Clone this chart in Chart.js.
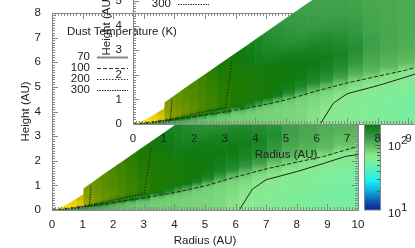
<!DOCTYPE html>
<html>
<head>
<meta charset="utf-8">
<script src="https://cdn.jsdelivr.net/npm/chart.js@4"></script>
<style>
html, body { margin: 0; padding: 0; background: #fff; overflow: hidden; }
#wrap { position: relative; width: 415px; height: 248px; overflow: hidden; }
canvas { position: absolute; }
</style>
</head>
<body>
<div id="wrap">
  <canvas id="lower" width="415" height="248" style="left:0;top:0"></canvas>
  <canvas id="upper" width="415" height="248" style="left:81px;top:-86px"></canvas>
</div>
<script>
// radial bin edges (AU), the disk map has visible vertical bands
const radiusEdges = [0.05, 0.2, 0.4, 0.6, 0.8, 1.02, 1.04, 1.2, 1.4, 1.6, 1.85, 2.1, 2.4, 2.75, 3.2, 3.69, 3.99, 4.25, 4.57, 4.9, 5.29, 5.69, 6.11, 6.54, 7.03, 7.52, 8.07, 8.66, 9.2, 9.85, 10];
// upper edge of the map at each radius edge (AU)
const surfaceHeight = [0.01, 0.07, 0.17, 0.31, 0.47, 0.64, 0.88, 1.03, 1.2, 1.38, 1.59, 1.81, 2.06, 2.37, 2.75, 3.17, 3.43, 3.65, 3.93, 4.21, 4.55, 4.89, 5.25, 5.62, 6.05, 6.47, 6.94, 7.45, 7.91, 8.47, 8.6];
// height over radius of each temperature sample
const heightRatios = [0, 0.08, 0.12, 0.16, 0.2, 0.24, 0.28, 0.34, 0.42, 0.52, 0.66, 0.86];
// dust temperature (K), one row per radial bin, one value per height ratio
const temperatures = [
  [160, 500, 800, 1000, 1200, 1200, 1200, 1200, 1200, 1200, 1200, 1200],
  [150, 450, 750, 1000, 1150, 1200, 1200, 1200, 1200, 1200, 1200, 1200],
  [140, 350, 650, 900, 1100, 1150, 1150, 1150, 1100, 1100, 1100, 1100],
  [130, 280, 500, 750, 950, 1050, 1050, 1000, 1000, 1000, 1000, 1000],
  [120, 220, 380, 600, 800, 900, 900, 850, 800, 800, 800, 800],
  [118, 200, 330, 520, 700, 780, 780, 740, 700, 700, 700, 700],
  [115, 170, 280, 420, 560, 650, 650, 620, 600, 580, 560, 540],
  [110, 140, 240, 350, 480, 560, 580, 560, 540, 520, 510, 500],
  [105, 125, 210, 310, 430, 500, 530, 520, 500, 480, 470, 460],
  [100, 115, 170, 280, 390, 450, 480, 470, 460, 440, 430, 420],
  [95, 105, 140, 250, 350, 400, 430, 430, 420, 410, 400, 390],
  [92, 98, 120, 210, 310, 360, 390, 390, 380, 370, 360, 350],
  [90, 92, 105, 180, 270, 320, 350, 350, 340, 330, 320, 300],
  [88, 88, 95, 150, 240, 290, 310, 310, 300, 290, 270, 250],
  [85, 85, 88, 105, 200, 260, 280, 285, 280, 260, 235, 210],
  [84, 84, 85, 98, 170, 235, 250, 255, 250, 235, 200, 180],
  [83, 83, 84, 92, 140, 220, 240, 245, 240, 220, 185, 165],
  [82, 82, 83, 88, 120, 205, 225, 230, 225, 205, 170, 150],
  [81, 81, 82, 85, 102, 180, 205, 220, 220, 200, 158, 140],
  [80, 80, 81, 83, 92, 155, 185, 205, 215, 195, 148, 132],
  [78, 78, 79, 81, 86, 125, 170, 190, 205, 185, 140, 126],
  [72, 74, 76, 78, 82, 105, 155, 180, 200, 175, 134, 122],
  [68, 70, 72, 75, 80, 95, 140, 170, 190, 165, 130, 120],
  [66, 67, 68, 71, 76, 88, 125, 155, 175, 150, 126, 118],
  [64, 64, 65, 67, 72, 82, 105, 135, 155, 135, 122, 116],
  [62, 62, 63, 65, 70, 78, 102, 118, 128, 120, 116, 114],
  [60, 60, 61, 63, 67, 75, 100, 112, 118, 116, 114, 112],
  [58, 58, 59, 61, 65, 72, 96, 108, 112, 112, 110, 110],
  [56, 56, 57, 59, 63, 70, 92, 105, 110, 110, 108, 108],
  [55, 55, 56, 58, 62, 69, 90, 104, 108, 108, 107, 107]
];
// colour table of the bar
const colorTemps = [10, 14, 20, 28, 40, 55, 70, 100, 130, 160, 200, 280, 400, 600, 850, 1200, 11000];
const colorValues = ['#0c1f96', '#1060b0', '#10b0e0', '#18f0f0', '#50f0c0', '#74f0a4', '#8ce88c', '#5cb85c', '#3a9c46', '#1f8a2c', '#0f7a12', '#1f7a00', '#4f8a00', '#8fa000', '#d8c400', '#ffe000', '#ffe000'];

// contours
const contour70R = [6.12, 6.55, 7, 8.03, 8.9, 9.6, 10];
const contour70Z = [0, 0.85, 1.23, 1.57, 1.9, 2.18, 2.25];
const contour100R = [0, 1, 2, 3, 4.06, 5.04, 6, 7, 8, 8.9, 10];
const contour100Z = [0, 0.13, 0.3, 0.49, 0.72, 0.99, 1.34, 1.67, 1.94, 2.18, 2.59];
const contour200R = [0.6, 1.22, 2.19, 3.02, 3.24];
const contour200Z = [0.06, 0.19, 0.46, 0.67, 2.6];
const contour300R = [0.1, 0.6, 1.22, 1.28];
const contour300Z = [0, 0.05, 0.17, 1.02];

const legendLabels = ['70', '100', '200', '300'];
const legendDashes = [[], [4, 2], [1.5, 1.5], [1.5, 1]];
const barTicks = [10, 100];
const FONT = '11.5px "Liberation Sans", Arial, sans-serif';

function colorFor(t) {
    // log interpolation along the colour table
    let i = 0;
    while (i < colorTemps.length - 2 && t > colorTemps[i + 1]) i++;
    const f = Math.min(1, Math.max(0, (Math.log(t) - Math.log(colorTemps[i])) / (Math.log(colorTemps[i + 1]) - Math.log(colorTemps[i]))));
    const a = parseInt(colorValues[i].slice(1), 16), b = parseInt(colorValues[i + 1].slice(1), 16);
    const mix = s => Math.round(((a >> s) & 255) * (1 - f) + ((b >> s) & 255) * f);
    return `rgb(${mix(16)},${mix(8)},${mix(0)})`;
}

function toLine(rs, zs) {
    return rs.map((r, i) => ({ x: r, y: zs[i] }));
}

const mapPlugin = {
    id: 'diskMap',
    beforeDatasetsDraw(chart) {
        const { ctx, scales: { x, y } } = chart;
        ctx.save();
        for (let i = 0; i < temperatures.length; i++) {
            const mid = (radiusEdges[i] + radiusEdges[i + 1]) / 2;
            const x0 = x.getPixelForValue(radiusEdges[i]);
            const x1 = x.getPixelForValue(radiusEdges[i + 1]);
            const y0 = y.getPixelForValue(0);
            const topZ = heightRatios[heightRatios.length - 1] * mid;
            const g = ctx.createLinearGradient(0, y0, 0, y.getPixelForValue(topZ));
            heightRatios.forEach((h, j) => {
                g.addColorStop(h / heightRatios[heightRatios.length - 1], colorFor(temperatures[i][j]));
            });
            ctx.fillStyle = g;
            ctx.beginPath();
            ctx.moveTo(x0, y0);
            ctx.lineTo(x0, y.getPixelForValue(surfaceHeight[i]));
            ctx.lineTo(x1, y.getPixelForValue(surfaceHeight[i + 1]));
            // small overlap so no seam shows between the bins
            ctx.lineTo(x1 + 0.6, y.getPixelForValue(surfaceHeight[i + 1]));
            ctx.lineTo(x1 + 0.6, y0);
            ctx.closePath();
            ctx.fill();
        }
        ctx.restore();
    },
    afterDatasetsDraw(chart) {
        const { ctx, chartArea: a, scales: { x, y } } = chart;
        ctx.save();
        // frame and inward ticks
        ctx.strokeStyle = '#888';
        ctx.lineWidth = 1;
        ctx.strokeRect(a.left + 0.5, a.top + 0.5, a.right - a.left, a.bottom - a.top);
        ctx.beginPath();
        for (let k = 0; k <= 100; k++) {
            const px = Math.round(x.getPixelForValue(k / 10)) + 0.5;
            const len = k % 10 === 0 ? 6 : 3;
            ctx.moveTo(px, a.bottom); ctx.lineTo(px, a.bottom - len);
            ctx.moveTo(px, a.top); ctx.lineTo(px, a.top + len);
        }
        for (let k = 0; k <= 80; k++) {
            const py = Math.round(y.getPixelForValue(k / 10)) + 0.5;
            const len = k % 10 === 0 ? 6 : 3;
            ctx.moveTo(a.left, py); ctx.lineTo(a.left + len, py);
            ctx.moveTo(a.right, py); ctx.lineTo(a.right - len, py);
        }
        ctx.stroke();

        // legend
        ctx.font = FONT;
        ctx.fillStyle = '#222';
        ctx.textBaseline = 'middle';
        ctx.textAlign = 'left';
        ctx.fillText('Dust Temperature (K)', 67, 31.5);
        legendLabels.forEach((label, i) => {
            const ly = 57 + i * 11;
            ctx.textAlign = 'right';
            ctx.fillStyle = '#222';
            ctx.fillText(label, 90, ly);
            ctx.strokeStyle = i === 0 ? '#888' : '#333';
            ctx.lineWidth = i === 0 ? 2 : 1;
            ctx.setLineDash(legendDashes[i]);
            ctx.beginPath();
            ctx.moveTo(97, ly + 0.5);
            ctx.lineTo(128, ly + 0.5);
            ctx.stroke();
        });
        ctx.setLineDash([]);

        // colour bar
        const cb = chart.scales.bar;
        const left = 365, right = 380;
        const grad = ctx.createLinearGradient(0, cb.getPixelForValue(10), 0, cb.top);
        const span = Math.log(cb.max / 10);
        colorTemps.forEach((t, i) => {
            grad.addColorStop(Math.min(1, Math.log(t / 10) / span), colorValues[i]);
        });
        ctx.fillStyle = grad;
        ctx.fillRect(left, cb.top, right - left, cb.bottom - cb.top);
        ctx.strokeStyle = '#888';
        ctx.lineWidth = 1;
        ctx.strokeRect(left - 0.5, cb.top, right - left + 1, cb.bottom - cb.top);
        ctx.strokeStyle = '#555';
        ctx.beginPath();
        [20, 30, 40, 50, 60, 70, 80, 90, 100].forEach(t => {
            const py = Math.round(cb.getPixelForValue(t)) + 0.5;
            ctx.moveTo(right, py);
            ctx.lineTo(right - (t === 100 ? 5 : 3), py);
        });
        ctx.stroke();
        ctx.fillStyle = '#222';
        ctx.textAlign = 'left';
        barTicks.forEach((t, i) => {
            const py = cb.getPixelForValue(t) + (i === 0 ? 3 : 1);
            ctx.font = FONT;
            ctx.fillText('10', 388, py + 1);
            ctx.fillText(String(i + 1), 401, py - 5);
        });
        ctx.restore();
    }
};

function buildChart(id) {
    const ctx = document.getElementById(id).getContext('2d');
    return new Chart(ctx, {
        type: 'scatter',
        data: {
            datasets: [
                { data: toLine(contour70R, contour70Z), borderDash: [] },
                { data: toLine(contour100R, contour100Z), borderDash: [4, 2] },
                { data: toLine(contour200R, contour200Z), borderDash: [1.5, 1.5] },
                { data: toLine(contour300R, contour300Z), borderDash: [1.5, 1] }
            ].map(d => ({ ...d, showLine: true, pointRadius: 0, borderColor: '#222', borderWidth: 1, tension: 0 }))
        },
        options: {
            responsive: false,
            animation: false,
            events: [],
            layout: { padding: { left: 0, top: 13, right: 57, bottom: 0 } },
            plugins: { legend: { display: false }, tooltip: { enabled: false } },
            scales: {
                x: {
                    type: 'linear', min: 0, max: 10,
                    afterFit: s => { s.height = 38; },
                    grid: { display: false },
                    border: { display: false },
                    ticks: { stepSize: 1, padding: 0, color: '#222', font: { family: '"Liberation Sans"', size: 11.5 }, maxRotation: 0 },
                    title: { display: true, text: 'Radius (AU)', color: '#222', font: { family: '"Liberation Sans"', size: 11.5 }, padding: { top: 0, bottom: 0 } }
                },
                y: {
                    type: 'linear', min: 0, max: 8,
                    afterFit: s => { s.width = 52; },
                    grid: { display: false },
                    border: { display: false },
                    ticks: { stepSize: 1, padding: 3, color: '#222', font: { family: '"Liberation Sans"', size: 11.5 } },
                    title: { display: true, text: 'Height (AU)', color: '#222', font: { family: '"Liberation Sans"', size: 11.5 }, padding: { top: 19, bottom: 0 } }
                },
                bar: { type: 'logarithmic', axis: 'y', display: false, min: 10, max: 11000 }
            }
        },
        plugins: [mapPlugin]
    });
}

buildChart('lower');
buildChart('upper');
</script>
</body>
</html>
